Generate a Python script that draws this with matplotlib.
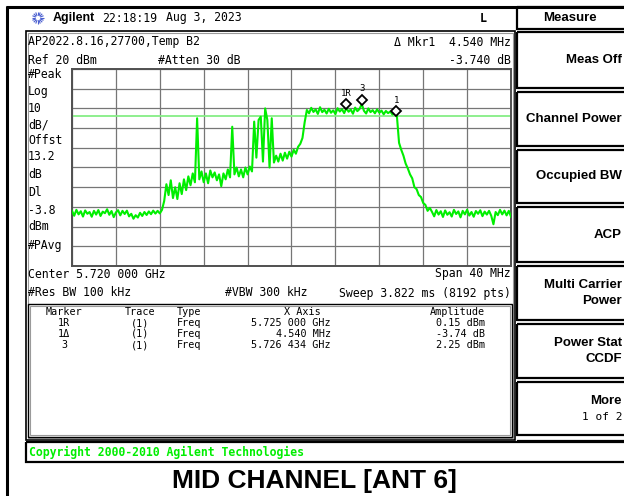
import numpy as np
import matplotlib
matplotlib.use("Agg")
import matplotlib.pyplot as plt
from matplotlib.patches import Rectangle
from matplotlib.transforms import offset_copy

# ---------------- data ----------------
center_ghz = 5.720
span_mhz = 40.0
ref_level_dbm = 20.0
db_per_div = 10.0
display_line_dbm = -3.8

# trace (dBm), sweep points every 0.2 MHz from 5.700 to 5.740 GHz
floor_left = [-52.0, -54.5, -51.5, -53.8, -52.2, -54.9, -51.8, -53.5, -52.6, -55.0,
              -52.0, -53.9, -51.6, -54.6, -52.4, -53.2, -51.2, -54.0, -52.1, -55.2,
              -52.8, -51.7, -54.3, -52.0, -53.6, -51.9, -54.8, -53.5, -56.0, -54.2,
              -55.4, -53.0, -54.6, -52.6, -54.1, -52.3, -53.7, -51.9, -53.4, -52.0,
              -53.3, -51.5]
skirt_left = [-47.0, -38.5, -44.0, -36.5, -45.5, -40.0, -46.0, -38.0, -43.5, -36.0,
              -41.5, -34.5, -39.0, -33.0, -37.5, -5.0, -36.0, -32.0, -37.5, -33.0,
              -38.0, -31.5, -35.0, -32.5, -36.5, -33.5, -39.5, -33.0, -36.0, -31.0,
              -35.0, -9.3, -33.5, -30.0, -34.5, -31.0, -35.0, -30.0, -33.5, -29.5,
              -32.0, -6.7, -25.0, -5.9, -4.2, -27.0, 0.0, -5.9, -30.0, -5.0,
              -27.5, -24.0, -27.0, -23.0, -26.5, -22.5, -25.5, -22.0, -24.5, -21.0,
              -23.0, -19.5, -18.0, -15.0, -7.0]
band_top = [-0.8, -2.5, 0.3, -1.8, -0.5, -2.8, 0.6, -1.9, -0.7, -2.6,
            -0.2, -2.2, -1.0, -2.9, 0.1, -1.6, -0.4, -2.4, 0.15, -1.7,
            -0.6, -2.7, 0.4, -1.4, -0.3, 2.25, -1.2, -2.6, 0.0, -1.9,
            -0.9, -2.5, -0.5, -2.2, -1.1, -3.0, -1.3, -2.4, -1.6, -3.1,
            -2.3]
skirt_right = [-3.6, -17.5, -21.0, -24.0, -28.0, -30.5, -33.5, -35.5, -40.0, -41.0,
               -44.0, -45.0, -48.0, -49.0, -52.0, -50.5]
floor_right = [-52.5, -54.8, -51.6, -53.9, -52.2, -55.1, -51.8, -54.0, -52.7, -54.9,
               -51.5, -53.6, -52.3, -55.3, -52.0, -53.8, -51.4, -54.4, -52.6, -55.0,
               -52.1, -53.5, -51.7, -54.7, -52.4, -53.9, -52.0, -54.5, -58.8, -52.6,
               -54.2, -51.5, -53.8, -51.9, -54.3, -52.0, -55.0]

marker_labels = ["1R", "3", "1"]
marker_freq_ghz = [5.725000, 5.726434, 5.729540]
marker_amp_dbm = [0.15, 2.25, -3.59]

table_marker = ["1R", "1Δ", "3"]
table_trace = ["(1)", "(1)", "(1)"]
table_type = ["Freq", "Freq", "Freq"]
table_xaxis = ["5.725 000 GHz", "4.540 MHz", "5.726 434 GHz"]
table_amp = ["0.15 dBm", "-3.74 dB", "2.25 dBm"]

left_labels = ["#Peak", "Log", "10", "dB/", "Offst", "13.2", "dB", "Dl", "-3.8", "dBm", "#PAvg"]
left_label_y = [75, 92, 108, 125, 141, 157, 174, 193, 210, 227, 245]

buttons = [("Meas Off",), ("Channel Power",), ("Occupied BW",), ("ACP",),
           ("Multi Carrier", "Power"), ("Power Stat", "CCDF"), ("More", "1 of 2")]
button_boxes = [(32, 88), (92, 146), (150, 203), (207, 262), (266, 320), (324, 378), (382, 435)]

# ---------------- figure ----------------
W, H = 624, 496
fig = plt.figure(figsize=(W / 100, H / 100), dpi=100)
fig.patch.set_facecolor("white")

ov = fig.add_axes([0, 0, 1, 1])
ov.set_xlim(0, W)
ov.set_ylim(H, 0)
ov.axis("off")

MONO = "DejaVu Sans Mono"
KEYF = "Liberation Sans"
GREEN = "#00ee00"


def T(x, y, s, size=8.3, ha="left", family=MONO, weight="normal", color="black", **kw):
    ov.text(x, y, s, fontsize=size, ha=ha, va="center", family=family,
            fontweight=weight, color=color, **kw)


def L(xs, ys, lw=1.0, color="black"):
    ov.plot(xs, ys, color=color, lw=lw, solid_capstyle="butt")


def R(x0, y0, x1, y1, lw=1.0, ec="black"):
    ov.add_patch(Rectangle((x0, y0), x1 - x0, y1 - y0, fill=False, ec=ec, lw=lw))


# outer frame lines
L([7, 7], [6, 496], lw=2.2)
L([6, 624], [7, 7], lw=2.2)

# header
cx, cy = 38, 18
for ang in np.arange(0, 180, 22.5):
    a = np.deg2rad(ang)
    L([cx - 6 * np.cos(a), cx + 6 * np.cos(a)], [cy - 6 * np.sin(a), cy + 6 * np.sin(a)],
      lw=0.8, color="#4a5fd0")
ov.add_patch(plt.Circle((cx, cy), 1.6, color="white", zorder=3))
T(53, 18, "Agilent", size=9, family="Liberation Sans", weight="bold")
T(102, 18, "22:18:19", size=8.3)
T(166, 18, "Aug 3, 2023", size=8.3)
T(480, 18, "L", size=8.5, weight="bold")

# main panel
R(26, 31, 515, 440, lw=1.2)
R(28, 33, 513, 438, lw=0.8, ec="#9a9a9a")
T(28, 42, "AP2022.8.16,27700,Temp B2")
T(28, 61, "Ref 20 dBm")
T(158, 61, "#Atten 30 dB")
T(511, 42, "Δ Mkr1  4.540 MHz", ha="right")
T(511, 61, "-3.740 dB", ha="right")
for s, y in zip(left_labels, left_label_y):
    T(28, y, s)

T(28, 274, "Center 5.720 000 GHz")
T(511, 274, "Span 40 MHz", ha="right")
T(28, 293, "#Res BW 100 kHz")
T(225, 293, "#VBW 300 kHz")
T(511, 293, "Sweep 3.822 ms (8192 pts)", ha="right")

# marker table
R(28, 304, 512, 437, lw=1.0)
R(30, 306, 510, 435, lw=0.8, ec="#9a9a9a")
TS = 7.3
T(64, 312, "Marker", size=TS, ha="center")
T(140, 312, "Trace", size=TS, ha="center")
T(177, 312, "Type", size=TS)
T(302, 312, "X Axis", size=TS, ha="center")
T(485, 312, "Amplitude", size=TS, ha="right")
for i in range(3):
    y = 323 + 11 * i
    T(64, y, table_marker[i], size=TS, ha="center")
    T(140, y, table_trace[i], size=TS, ha="center")
    T(177, y, table_type[i], size=TS)
    T(331, y, table_xaxis[i], size=TS, ha="right")
    T(485, y, table_amp[i], size=TS, ha="right")

# copyright bar
R(26, 442, 640, 462, lw=1.6)
T(29, 452, "Copyright 2000-2010 Agilent Technologies", size=8.3, weight="bold", color=GREEN)

# title
T(314, 481, "MID CHANNEL [ANT 6]", size=19, ha="center", family="Liberation Sans", weight="bold")

# right soft-key column
R(517, 7, 640, 29, lw=1.6)
T(543, 18, "Measure", size=9.5, weight="bold", family=KEYF)
for lab, (y0, y1) in zip(buttons, button_boxes):
    R(517, y0, 640, y1, lw=1.6)
    yc = (y0 + y1) / 2
    if len(lab) == 1:
        T(622, yc, lab[0], size=9.5, ha="right", weight="bold", family=KEYF)
    else:
        T(622, yc - 8, lab[0], size=9.5, ha="right", weight="bold", family=KEYF)
        if lab[1] == "1 of 2":
            T(622, yc + 8, lab[1], size=8.0, ha="right")
        else:
            T(622, yc + 8, lab[1], size=9.5, ha="right", weight="bold", family=KEYF)
L([517, 640], [441, 441], lw=1.6)

# ---------------- spectrum graticule ----------------
gx0, gx1, gy0, gy1 = 72, 511, 69, 266
ax = fig.add_axes([gx0 / W, 1 - gy1 / H, (gx1 - gx0) / W, (gy1 - gy0) / H])
f_lo = center_ghz - span_mhz / 2000.0
f_hi = center_ghz + span_mhz / 2000.0
bottom = ref_level_dbm - 10 * db_per_div
ax.set_xlim(f_lo, f_hi)
ax.set_ylim(bottom, ref_level_dbm)
ax.set_xticks(np.linspace(f_lo, f_hi, 11))
ax.set_yticks(np.linspace(bottom, ref_level_dbm, 11))
ax.tick_params(length=0, labelbottom=False, labelleft=False)
ax.grid(True, color="#767676", lw=0.9)
for sp in ax.spines.values():
    sp.set_color("#505050")
    sp.set_linewidth(1.4)

trace_dbm = np.array(floor_left + skirt_left + band_top + skirt_right + floor_right)
freq_ghz = np.linspace(f_lo, f_hi, len(trace_dbm))

ax.axhline(display_line_dbm, color="#86ee86", lw=1.3, zorder=2)
ax.plot(freq_ghz, trace_dbm, color=GREEN, lw=1.5, zorder=3)

mk_tr = offset_copy(ax.transData, fig=fig, x=0, y=4, units="dots")
ax.plot(marker_freq_ghz, marker_amp_dbm, ls="none", marker="D", ms=5.5, mfc="white",
        mec="black", mew=1.3, transform=mk_tr, zorder=5, clip_on=False)
for lab, f, a in zip(marker_labels, marker_freq_ghz, marker_amp_dbm):
    ax.annotate(lab, (f, a), xytext=(0, 15), textcoords="offset pixels", ha="center",
                va="center", fontsize=6.5, family=MONO, zorder=6)

fig.savefig("out.png", dpi=100)
